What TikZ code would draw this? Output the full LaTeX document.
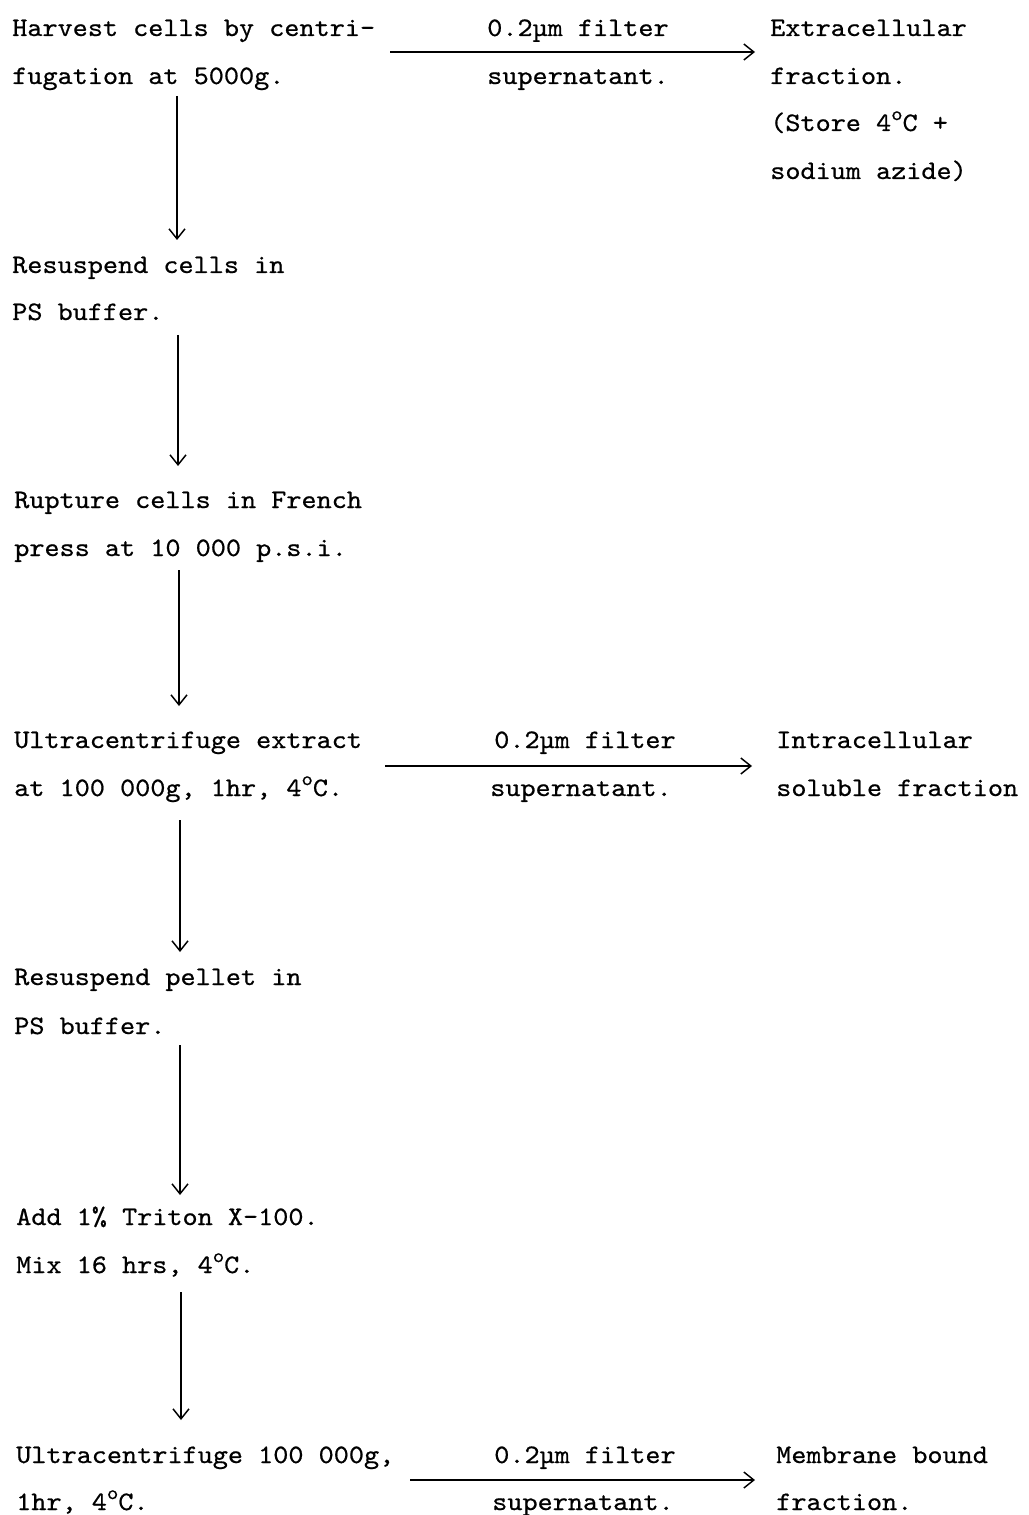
\documentclass[tikz,border=0pt]{standalone}
\usepackage{fontspec}
\newfontfamily\tw[FakeStretch=1.08,FakeBold=0.6]{lmmono10-regular.otf}
\usetikzlibrary{arrows.meta,calc}
\newcommand\degc{\raisebox{0.95ex}{\fontsize{15}{15}\selectfont o}C}
\begin{document}
\begin{tikzpicture}[x=0.75pt,y=-0.75pt,
  txt/.style={anchor=base west,inner sep=0pt,font=\tw\fontsize{20}{20}\selectfont},
  flow/.style={-{Straight Barb[length=7.5pt,width=12pt]},line width=1.1pt}]
\useasboundingbox (0,0) rectangle (1028,1515);
% left column
\node[txt] (s1a) at (12,36)   {Harvest cells by centri-};
\node[txt] (s1b) at (12,84)   {fugation at 5000g.};
\node[txt] (s2a) at (12,273)  {Resuspend cells in};
\node[txt] (s2b) at (12,320)  {PS buffer.};
\node[txt] (s3a) at (14,508)  {Rupture cells in French};
\node[txt] (s3b) at (14,556)  {press at 10 000 p.s.i.};
\node[txt] (s4a) at (14,748)  {Ultracentrifuge extract};
\node[txt] (s4b) at (14,796)  {at 100 000g, 1hr, 4\degc.};
\node[txt] (s5a) at (14,985)  {Resuspend pellet in};
\node[txt] (s5b) at (14,1034) {PS buffer.};
\node[txt] (s6a) at (16,1225) {Add 1\% Triton X-100.};
\node[txt] (s6b) at (16,1273) {Mix 16 hrs, 4\degc.};
\node[txt] (s7a) at (16,1463) {Ultracentrifuge 100 000g,};
\node[txt] (s7b) at (16,1510) {1hr, 4\degc.};
% middle labels
\node[txt] (f1) at (487,36)   {0.2µm filter};
\node[txt] (p1) at (487,84)   {supernatant.};
\node[txt] (f2) at (494,748)  {0.2µm filter};
\node[txt] (p2) at (490,796)  {supernatant.};
\node[txt] (f3) at (494,1463) {0.2µm filter};
\node[txt] (p3) at (492,1510) {supernatant.};
% right column
\node[txt] (e1a) at (770,36)  {Extracellular};
\node[txt] (e1b) at (770,84)  {fraction.};
\node[txt] (e1c) at (770,131) {(Store 4\degc{} +};
\node[txt] (e1d) at (770,179) {sodium azide)};
\node[txt] (e2a) at (776,748) {Intracellular};
\node[txt] (e2b) at (776,796) {soluble fraction};
\node[txt] (e3a) at (776,1463) {Membrane bound};
\node[txt] (e3b) at (776,1510) {fraction.};
% vertical arrows
\draw[flow] ($(s1b.base west)+(165,12)$) -- ($(s2a.base west)+(165,-33)$);
\draw[flow] ($(s2b.base west)+(166,15)$) -- ($(s3a.base west)+(164,-42)$);
\draw[flow] ($(s3b.base west)+(165,14)$) -- ($(s4a.base west)+(165,-42)$);
\draw[flow] ($(s4b.base west)+(166,24)$) -- ($(s5a.base west)+(166,-33)$);
\draw[flow] ($(s5b.base west)+(166,11)$) -- ($(s6a.base west)+(164,-30)$);
\draw[flow] ($(s6b.base west)+(165,19)$) -- ($(s7a.base west)+(165,-43)$);
% horizontal arrows
\draw[flow] ($(s1a.base west)+(378,16)$) -- ($(e1a.base west)+(-15,16)$);
\draw[flow] ($(s4a.base west)+(371,18)$) -- ($(e2a.base west)+(-24,18)$);
\draw[flow] ($(s7a.base west)+(394,17)$) -- ($(e3a.base west)+(-21,17)$);
\end{tikzpicture}
\end{document}
